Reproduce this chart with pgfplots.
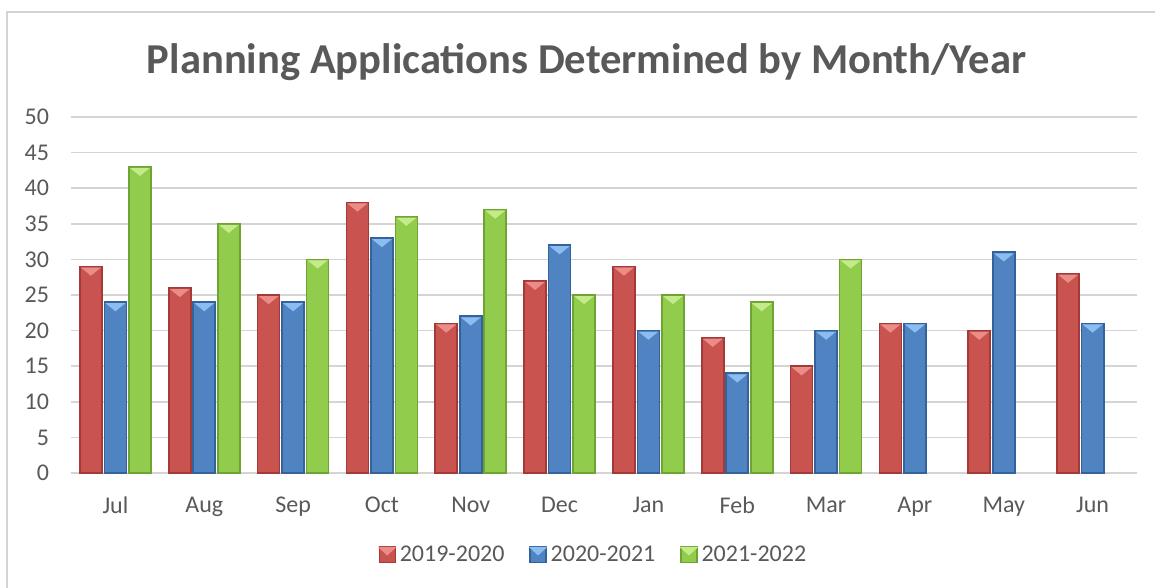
\documentclass[border=0pt]{standalone}
\usepackage{pgfplots}
\pgfplotsset{compat=1.18}
\usepackage{fontspec}
\setmainfont{Carlito}
\definecolor{txt}{HTML}{595959}
\definecolor{gridc}{HTML}{D4D4D4}
\definecolor{redA}{HTML}{C9544F}
\definecolor{redD}{HTML}{A33A37}
\definecolor{redL}{HTML}{EC8C88}
\definecolor{bluA}{HTML}{4F83C2}
\definecolor{bluD}{HTML}{34639C}
\definecolor{bluL}{HTML}{8BBDF0}
\definecolor{grnA}{HTML}{92CC4C}
\definecolor{grnD}{HTML}{6FA332}
\definecolor{grnL}{HTML}{C3EB8A}
\pgfdeclareplotmark{bevtri}{%
  \pgfpathmoveto{\pgfqpoint{-5pt}{-0.5pt}}%
  \pgfpathlineto{\pgfqpoint{5pt}{-0.5pt}}%
  \pgfpathlineto{\pgfqpoint{0pt}{-4.6pt}}%
  \pgfpathclose\pgfusepathqfill}
\begin{document}
\begin{tikzpicture}
\path[use as bounding box] (-35.5pt,-57.5pt) rectangle (542pt,236.5pt);
\draw[gridc, line width=0.8pt] (-32pt,-57.5pt) -- (-32pt,230.5pt) -- (542pt,230.5pt);
\node[txt, font=\fontsize{21.3}{25}\selectfont\bfseries] at (257.75pt,205.5pt) {Planning Applications Determined by Month/Year};
\begin{axis}[
  at={(0pt,0pt)}, anchor=south west, scale only axis,
  width=533pt, height=178pt,
  xmin=-0.5, xmax=11.5, ymin=0, ymax=50,
  xtick={0,...,11},
  xticklabels={Jul,Aug,Sep,Oct,Nov,Dec,Jan,Feb,Mar,Apr,May,Jun},
  ytick={0,5,...,50},
  major tick length=0pt,
  axis x line*=bottom, axis y line*=left,
  x axis line style={gridc, line width=1pt, -},
  y axis line style={draw=none},
  ymajorgrids, grid style={gridc, line width=0.8pt},
  tick label style={txt, font=\fontsize{12}{14}\selectfont},
  /pgf/number format/assume math mode=true,
  yticklabel style={xshift=-7.5pt},
  xticklabel style={yshift=-8.5pt},
  clip=false,
  legend columns=3,
  legend style={at={(0.491,-0.23)}, anchor=center, draw=none, fill=none,
    font=\fontsize{12}{14}\selectfont, text=txt,
    /tikz/every even column/.append style={column sep=10.5pt}},
  legend cell align=left,
]
\addplot[ybar, bar width=11pt, bar shift=-12.25pt, fill=redA, draw=redD, line width=0.9pt,
  legend image code/.code={\fill[redA, draw=redD, line width=0.6pt] (0pt,-4pt) rectangle (8pt,4pt);
    \fill[redL] (0.5pt,3.5pt) -- (7.5pt,3.5pt) -- (4pt,0.3pt) -- cycle;}]
  coordinates {(0,29)(1,26)(2,25)(3,38)(4,21)(5,27)(6,29)(7,19)(8,15)(9,21)(10,20)(11,28)};
\addlegendentry{2019-2020}
\addplot[ybar, bar width=11pt, bar shift=0pt, fill=bluA, draw=bluD, line width=0.9pt,
  legend image code/.code={\fill[bluA, draw=bluD, line width=0.6pt] (0pt,-4pt) rectangle (8pt,4pt);
    \fill[bluL] (0.5pt,3.5pt) -- (7.5pt,3.5pt) -- (4pt,0.3pt) -- cycle;}]
  coordinates {(0,24)(1,24)(2,24)(3,33)(4,22)(5,32)(6,20)(7,14)(8,20)(9,21)(10,31)(11,21)};
\addlegendentry{2020-2021}
\addplot[ybar, bar width=11pt, bar shift=12.25pt, fill=grnA, draw=grnD, line width=0.9pt,
  legend image code/.code={\fill[grnA, draw=grnD, line width=0.6pt] (0pt,-4pt) rectangle (8pt,4pt);
    \fill[grnL] (0.5pt,3.5pt) -- (7.5pt,3.5pt) -- (4pt,0.3pt) -- cycle;}]
  coordinates {(0,43)(1,35)(2,30)(3,36)(4,37)(5,25)(6,25)(7,24)(8,30)};
\addlegendentry{2021-2022}
\addplot[only marks, mark=bevtri, mark options={fill=redL, draw=none}, xshift=-12.25pt, forget plot]
  coordinates {(0,29)(1,26)(2,25)(3,38)(4,21)(5,27)(6,29)(7,19)(8,15)(9,21)(10,20)(11,28)};
\addplot[only marks, mark=bevtri, mark options={fill=bluL, draw=none}, forget plot]
  coordinates {(0,24)(1,24)(2,24)(3,33)(4,22)(5,32)(6,20)(7,14)(8,20)(9,21)(10,31)(11,21)};
\addplot[only marks, mark=bevtri, mark options={fill=grnL, draw=none}, xshift=12.25pt, forget plot]
  coordinates {(0,43)(1,35)(2,30)(3,36)(4,37)(5,25)(6,25)(7,24)(8,30)};
\end{axis}
\end{tikzpicture}
\end{document}
